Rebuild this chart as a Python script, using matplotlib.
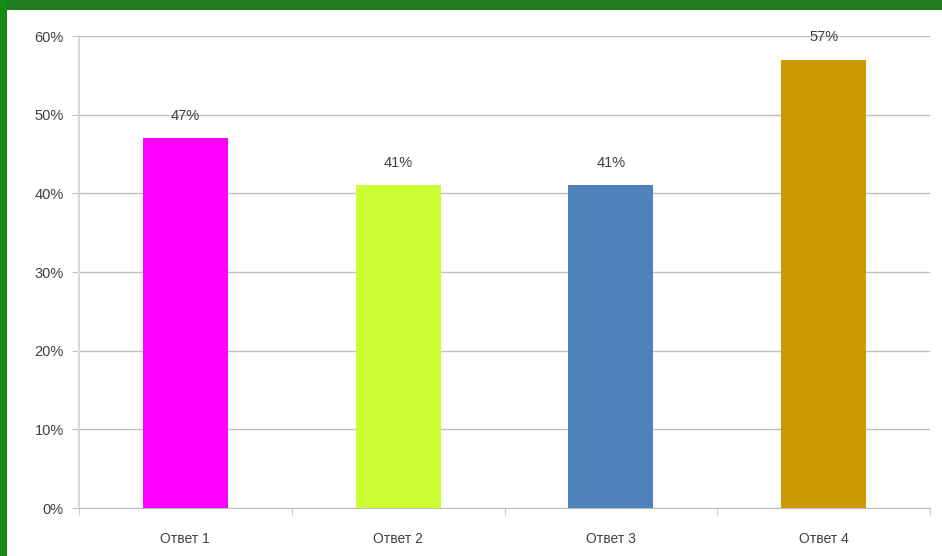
import numpy as np
import matplotlib.pyplot as plt
from matplotlib.patches import Rectangle
from matplotlib.ticker import FuncFormatter

categories = ['Ответ 1', 'Ответ 2', 'Ответ 3', 'Ответ 4']
values = [47, 41, 41, 57]
bar_colors = ['#FF00FF', '#CCFF33', '#4F81BD', '#CC9900']
yticks = [0, 10, 20, 30, 40, 50, 60]

plt.rcParams['font.family'] = ['Liberation Sans', 'DejaVu Sans']

fig = plt.figure(figsize=(9.42, 5.56), dpi=100)
fig.patch.set_facecolor('white')

# green frame (top band and left strip)
fig.patches.append(Rectangle((0, 1 - 10 / 556), 1, 10 / 556, transform=fig.transFigure,
                             facecolor='#1E7B1E', edgecolor='none', zorder=0))
fig.patches.append(Rectangle((0, 0), 7 / 942, 1, transform=fig.transFigure,
                             facecolor='#168A16', edgecolor='none', zorder=0))

ax = fig.add_axes([79 / 942, 1 - 508 / 556, (930 - 79) / 942, (508 - 36) / 556])
x = np.arange(len(categories))
bars = ax.bar(x, values, width=0.4, color=bar_colors, zorder=3)

for b, v in zip(bars, values):
    ax.text(b.get_x() + b.get_width() / 2, v + 2, f'{v}%', ha='center', va='bottom',
            fontsize=10.5, color='#404040', zorder=4)

ax.set_xlim(-0.5, len(categories) - 0.5)
ax.set_ylim(0, 60)
ax.set_yticks(yticks)
ax.yaxis.set_major_formatter(FuncFormatter(lambda v, p: f'{int(v)}%'))
ax.set_xticks(x)
ax.set_xticklabels(categories)
ax.set_xticks(np.arange(-0.5, len(categories)), minor=True)
ax.tick_params(axis='x', which='major', length=0, pad=17, labelsize=10, labelcolor='#404040')
ax.tick_params(axis='x', which='minor', length=5, color='#BFBFBF', direction='out')
ax.tick_params(axis='y', length=5, color='#BFBFBF', labelsize=10.5, labelcolor='#404040', pad=6)

ax.grid(axis='y', color='#BFBFBF', linewidth=1, zorder=0)
for s in ['top', 'right']:
    ax.spines[s].set_visible(False)
ax.spines['left'].set_color('#D9D9D9')
ax.spines['left'].set_linewidth(1.5)
ax.spines['bottom'].set_color('#BFBFBF')

fig.savefig('out.png', dpi=100)
